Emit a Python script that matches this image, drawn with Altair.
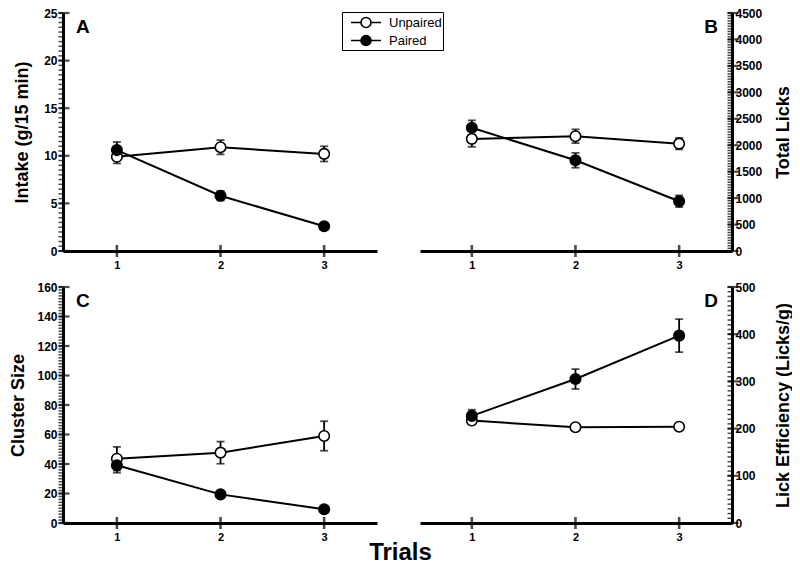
import altair as alt
import pandas as pd

trials = [1, 2, 3]
groups = ["Unpaired", "Paired"]

intake_unpaired = [9.9, 10.9, 10.2]
intake_unpaired_err = [0.7, 0.75, 0.8]
intake_paired = [10.6, 5.8, 2.6]
intake_paired_err = [0.85, 0.5, 0.25]

licks_unpaired = [2120, 2170, 2030]
licks_unpaired_err = [150, 130, 110]
licks_paired = [2330, 1715, 940]
licks_paired_err = [140, 140, 110]

cluster_unpaired = [43.6, 47.7, 59.0]
cluster_unpaired_err = [8, 7.5, 10]
cluster_paired = [39.1, 19.4, 9.3]
cluster_paired_err = [5, 1.5, 1]

eff_unpaired = [217, 203, 204]
eff_unpaired_err = [8, 5, 5]
eff_paired = [227, 305, 397]
eff_paired_err = [13, 21, 35]

FONT = "Liberation Sans"


def make_df(u, ue, p, pe):
    rows = []
    for g, vals, errs, o in [("Unpaired", u, ue, 0), ("Paired", p, pe, 1)]:
        for t, v, e in zip(trials, vals, errs):
            rows.append({"trial": t, "group": g, "mean": v, "lo": v - e, "hi": v + e, "ord": o})
    return pd.DataFrame(rows)


def ticks_list(top, step):
    n = int(round(top / step))
    return [round(i * step, 6) for i in range(n + 1)]


fill_scale = alt.Scale(domain=groups, range=["white", "black"])
legend_path = ("M-0.176,0L1.0,0M2.18,0L3.354,0"
               "M1.0,0A0.59,0.59,0,1,1,2.18,0A0.59,0.59,0,1,1,1.0,0Z")
legend = alt.Legend(
    title=None, orient="none", legendX=279, legendY=-1,
    symbolType=legend_path, symbolSize=289, symbolStrokeColor="black",
    symbolStrokeWidth=1.6, labelFont=FONT, labelFontSize=13, labelColor="black",
    strokeColor="black", padding=1, rowPadding=0, labelOffset=27,
    fillColor="white",
)


def panel(df, title, ytop, major_step, minor_step, orient, xdom, letter, w, h, title_x):
    xscale = alt.Scale(domain=xdom, nice=False, zero=False)
    xaxis = alt.Axis(values=trials, ticks=False, domainWidth=3, domainColor="black",
                     labelFont=FONT, labelFontWeight="bold", labelFontSize=11,
                     labelColor="black", labelPadding=8, title=None, grid=False,
                     format="d")
    yscale = alt.Scale(domain=[0, ytop], nice=False, zero=True)
    yaxis = alt.Axis(orient=orient, values=ticks_list(ytop, major_step), ticks=False,
                     domainWidth=3, domainColor="black", labelFont=FONT,
                     labelFontWeight="bold", labelFontSize=12, labelColor="black",
                     labelPadding=6 if orient == "left" else 3, title=title,
                     titleFont=FONT, titleFontSize=18, titleFontWeight="bold",
                     titleColor="black", format="d", titleX=title_x,
                     titleBaseline="middle", titleAlign="center",
                     titleAngle=270, grid=False, labelOverlap=False, labelFlush=False)
    X = alt.X("trial:Q", scale=xscale, axis=xaxis)
    axis_x = xdom[0] if orient == "left" else xdom[1]

    def Y(field):
        return alt.Y(field, scale=yscale, axis=yaxis)

    base = alt.Chart(df)
    bars = base.mark_rule(color="black", strokeWidth=1.8).encode(x=X, y=Y("lo:Q"), y2="hi:Q")
    caps = base.transform_fold(["lo", "hi"], as_=["k", "v"]).mark_tick(
        orient="horizontal", color="black", size=8, thickness=1.8
    ).encode(x=X, y=Y("v:Q"))
    line = base.mark_line(color="black", strokeWidth=2).encode(
        x=X, y=Y("mean:Q"), detail="group:N")
    pts = base.mark_point(shape="circle", filled=True, size=110, stroke="black",
                          strokeWidth=1.6, opacity=1).encode(
        x=X, y=Y("mean:Q"),
        fill=alt.Fill("group:N", scale=fill_scale, legend=legend),
        order=alt.Order("ord:Q"))

    majors = pd.DataFrame({"v": ticks_list(ytop, major_step)})
    minors = pd.DataFrame({"v": ticks_list(ytop, minor_step)})
    xt = pd.DataFrame({"t": trials})
    XD = alt.XDatum(axis_x, scale=xscale, axis=xaxis)
    minor_ticks = alt.Chart(minors).mark_tick(
        orient="horizontal", color="black", size=5, thickness=1.5, xOffset=-2
    ).encode(x=XD, y=Y("v:Q"))
    major_ticks = alt.Chart(majors).mark_tick(
        orient="horizontal", color="black", size=11, thickness=2.2, xOffset=1
    ).encode(x=XD, y=Y("v:Q"))
    x_ticks = alt.Chart(xt).mark_tick(
        orient="vertical", color="black", size=12, thickness=2.6
    ).encode(x=alt.X("t:Q", scale=xscale, axis=xaxis),
             y=alt.YDatum(0, scale=yscale, axis=yaxis))

    left = orient == "left"
    lab = alt.Chart(pd.DataFrame({"letter": [letter]})).mark_text(
        font=FONT, fontSize=19, fontWeight="bold", color="black",
        align="left" if left else "right", baseline="alphabetic",
        dx=13 if left else -14, dy=20,
    ).encode(x=XD, y=alt.YDatum(ytop, scale=yscale, axis=yaxis), text="letter:N")

    return alt.layer(minor_ticks, major_ticks, x_ticks, bars, caps, line, pts, lab).properties(
        width=w, height=h)


A = panel(make_df(intake_unpaired, intake_unpaired_err, intake_paired, intake_paired_err),
          "Intake (g/15 min)", 25, 5, 0.5, "left", [0.48, 3.51], "A", 314, 238, -41)
B = panel(make_df(licks_unpaired, licks_unpaired_err, licks_paired, licks_paired_err),
          "Total Licks", 4500, 500, 50, "right", [0.5, 3.51], "B", 312, 238, 51)
C = panel(make_df(cluster_unpaired, cluster_unpaired_err, cluster_paired, cluster_paired_err),
          "Cluster Size", 160, 20, 2, "left", [0.48, 3.51], "C", 314, 236, -45)
D = panel(make_df(eff_unpaired, eff_unpaired_err, eff_paired, eff_paired_err),
          "Lick Efficiency (Licks/g)", 500, 100, 10, "right", [0.5, 3.51], "D", 312, 236, 51)

chart = alt.concat(A, B, C, D, columns=2, spacing={"row": 36, "column": 43},
                   bounds="flush").properties(
    title=alt.TitleParams("Trials", orient="bottom", anchor="middle", font=FONT,
                          fontSize=24, fontWeight="bold", color="black", offset=-1),
    autosize=alt.AutoSizeParams(type="none"),
    padding={"left": 55, "top": 5, "right": 729, "bottom": 553},
).configure(background="white", view=alt.ViewConfig(stroke=None))

chart.save("out.html", embed_options={"renderer": "svg", "actions": False})
